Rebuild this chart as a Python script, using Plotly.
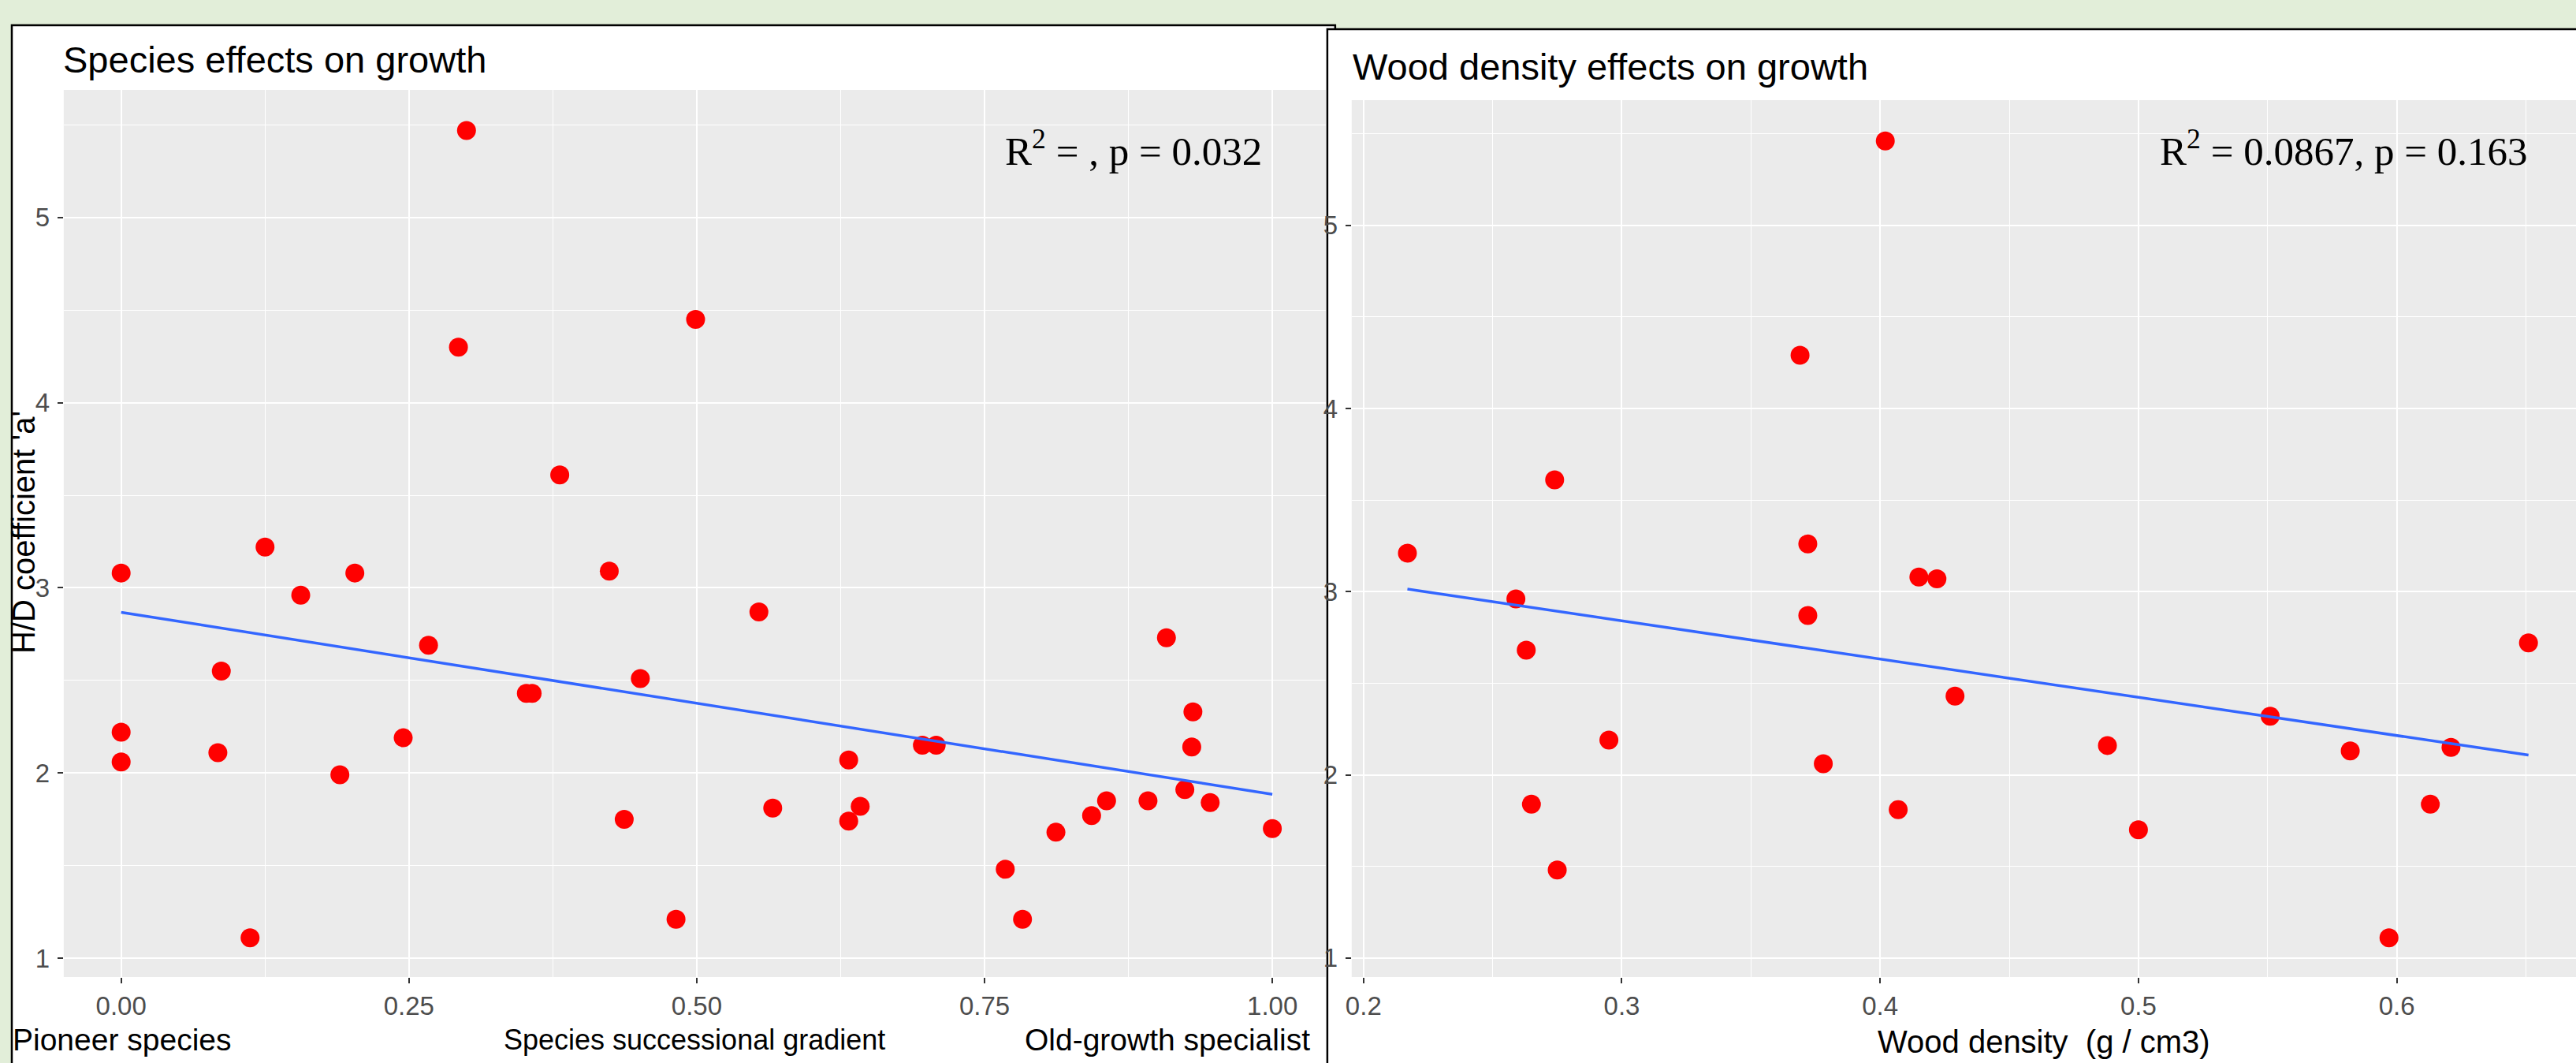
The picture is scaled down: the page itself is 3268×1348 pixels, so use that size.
import plotly.graph_objects as go

W, H = 3268, 1348

# ---------------- data ----------------
succ_x = [0.300, 0.499, 0.293, 0.381, 0.125, 0.000, 0.203, 0.424, 0.156, 0.267,
          0.087, 0.451, 0.352, 0.357, 0.000, 0.000, 0.084, 0.245, 0.190, 0.437,
          0.112, 0.482,
          0.554, 0.908, 0.931, 0.930, 0.696, 0.708, 0.632, 0.566, 0.632, 0.642,
          0.856, 0.892, 0.924, 0.946, 0.843, 0.812, 1.000, 0.768, 0.783]
succ_y = [5.47, 4.45, 4.30, 3.61, 3.22, 3.08, 3.08, 3.09, 2.96, 2.69,
          2.55, 2.51, 2.43, 2.43, 2.22, 2.06, 2.11, 2.19, 1.99, 1.75,
          1.11, 1.21,
          2.87, 2.73, 2.33, 2.14, 2.15, 2.15, 2.07, 1.81, 1.74, 1.82,
          1.85, 1.85, 1.91, 1.84, 1.77, 1.68, 1.70, 1.48, 1.21]
succ_fit_x = [0.0, 1.0]
succ_fit_y = [2.868, 1.885]

wd_x = [0.402, 0.369, 0.274, 0.217, 0.372, 0.415, 0.422, 0.259, 0.372, 0.263,
        0.429, 0.295, 0.378, 0.265, 0.407, 0.275,
        0.651, 0.551, 0.488, 0.582, 0.621, 0.613, 0.500, 0.597]
wd_y = [5.46, 4.29, 3.61, 3.21, 3.26, 3.08, 3.07, 2.96, 2.87, 2.68,
        2.43, 2.19, 2.06, 1.84, 1.81, 1.48,
        2.72, 2.32, 2.16, 2.13, 2.15, 1.84, 1.70, 1.11]
wd_fit_x = [0.217, 0.651]
wd_fit_y = [3.014, 2.108]

succ_ticks = [0, 0.25, 0.5, 0.75, 1.0]
succ_ticktext = ["0.00", "0.25", "0.50", "0.75", "1.00"]
wd_ticks = [0.2, 0.3, 0.4, 0.5, 0.6]
wd_ticktext = ["0.2", "0.3", "0.4", "0.5", "0.6"]
y_ticks = [1, 2, 3, 4, 5]

title_left = "Species effects on growth"
title_right = "Wood density effects on growth"
ylab = "H/D coefficient 'a'"
stat_left = "R<sup>2</sup> = , p = 0.032"
stat_right = "R<sup>2</sup> = 0.0867, p = 0.163"
xlab_left = "Species successional gradient"
xlab_right = "Wood density\u00a0 (g / cm3)"
end_left = "Pioneer species"
end_right = "Old-growth specialist"

# ---------------- styling ----------------
SANS = "Liberation Sans, Arial, sans-serif"
SERIF = "Liberation Serif, Times New Roman, serif"
GREEN_BG = "#e2eed9"
PANEL = "#ebebeb"
RED = "#ff0000"
BLUE = "#3366ff"


def px(x):
    return x / W


def py(y):
    return 1 - y / H


fig = go.Figure()

fig.add_trace(go.Scatter(x=succ_x, y=succ_y, mode="markers",
                         marker=dict(color=RED, size=24, line=dict(width=0)),
                         xaxis="x", yaxis="y", showlegend=False))
fig.add_trace(go.Scatter(x=succ_fit_x, y=succ_fit_y, mode="lines",
                         line=dict(color=BLUE, width=3.5),
                         xaxis="x", yaxis="y", showlegend=False))
fig.add_trace(go.Scatter(x=wd_x, y=wd_y, mode="markers",
                         marker=dict(color=RED, size=24, line=dict(width=0)),
                         xaxis="x2", yaxis="y2", showlegend=False))
fig.add_trace(go.Scatter(x=wd_fit_x, y=wd_fit_y, mode="lines",
                         line=dict(color=BLUE, width=3.5),
                         xaxis="x2", yaxis="y2", showlegend=False))

tickfont = dict(family=SANS, size=33, color="#4d4d4d")
common = dict(showgrid=True, gridcolor="white", gridwidth=2, zeroline=False,
              showline=False, ticks="outside", ticklen=7, tickwidth=2,
              tickcolor="#333333", tickfont=tickfont)
minor_style = dict(showgrid=True, gridcolor="white", gridwidth=1)

# panel geometry (pixels)
L1, R1, T1, B1 = 73, 1678, 114, 1239
L2, R2, T2, B2 = 1711, 3268, 127, 1239

fig.update_layout(
    width=W, height=H,
    margin=dict(l=0, r=0, t=0, b=0),
    paper_bgcolor=GREEN_BG,
    plot_bgcolor="rgba(0,0,0,0)",
    showlegend=False,
    xaxis=dict(domain=[px(L1), px(R1)], range=[-0.0499, 1.0464],
               tickvals=succ_ticks, ticktext=succ_ticktext,
               minor=dict(tickvals=[0.125, 0.375, 0.625, 0.875], **minor_style),
               anchor="y", ticklabelstandoff=0, **common),
    yaxis=dict(domain=[py(B1), py(T1)], range=[0.898, 5.689],
               tickvals=y_ticks,
               minor=dict(tickvals=[1.5, 2.5, 3.5, 4.5, 5.5], **minor_style),
               anchor="x", ticklabelstandoff=3, **common),
    xaxis2=dict(domain=[px(L2), px(R2)], range=[0.19543, 0.6694],
                tickvals=wd_ticks, ticktext=wd_ticktext,
                minor=dict(tickvals=[0.25, 0.35, 0.45, 0.55, 0.65], **minor_style),
                anchor="y2", ticklabelstandoff=0, **common),
    yaxis2=dict(domain=[py(B2), py(T2)], range=[0.896, 5.683],
                tickvals=y_ticks,
                minor=dict(tickvals=[1.5, 2.5, 3.5, 4.5, 5.5], **minor_style),
                anchor="x2", ticklabelstandoff=3, **common),
)

shapes = [
    dict(type="rect", xref="paper", yref="paper", layer="below",
         x0=px(7), x1=px(1690), y0=py(1370), y1=py(32),
         fillcolor="white", line=dict(color="black", width=2.5)),
    dict(type="rect", xref="x domain", yref="y domain", layer="below",
         x0=0, x1=1, y0=0, y1=1, fillcolor=PANEL, line=dict(width=0)),
    dict(type="rect", xref="paper", yref="paper", layer="below",
         x0=px(1680), x1=px(3300), y0=py(1370), y1=py(37),
         fillcolor="white", line=dict(color="black", width=2.5)),
    dict(type="rect", xref="x2 domain", yref="y2 domain", layer="below",
         x0=0, x1=1, y0=0, y1=1, fillcolor=PANEL, line=dict(width=0)),
]
fig.update_layout(shapes=shapes)

ann = [
    dict(text=title_left, x=px(70), y=py(76), xanchor="left", yanchor="middle",
         font=dict(family=SANS, size=47, color="black")),
    dict(text=title_right, x=px(1710), y=py(85), xanchor="left", yanchor="middle",
         font=dict(family=SANS, size=47, color="black")),
    dict(text=ylab, x=px(22), y=py(675), xanchor="center", yanchor="middle",
         textangle=-90, font=dict(family=SANS, size=40, color="black")),
    dict(text=stat_left, x=px(1599), y=py(188), xanchor="right", yanchor="middle",
         font=dict(family=SERIF, size=51, color="black")),
    dict(text=stat_right, x=px(3208), y=py(188), xanchor="right", yanchor="middle",
         font=dict(family=SERIF, size=51, color="black")),
    dict(text=end_left, x=px(6), y=py(1318), xanchor="left", yanchor="middle",
         font=dict(family=SANS, size=39, color="black")),
    dict(text=xlab_left, x=px(875), y=py(1318), xanchor="center", yanchor="middle",
         font=dict(family=SANS, size=36, color="black")),
    dict(text=end_right, x=px(1660), y=py(1318), xanchor="right", yanchor="middle",
         font=dict(family=SANS, size=39, color="black")),
    dict(text=xlab_right, x=px(2591), y=py(1321), xanchor="center", yanchor="middle",
         font=dict(family=SANS, size=40, color="black")),
]
for a in ann:
    a.update(xref="paper", yref="paper", showarrow=False)
fig.update_layout(annotations=ann)

fig.write_html("out.html")
